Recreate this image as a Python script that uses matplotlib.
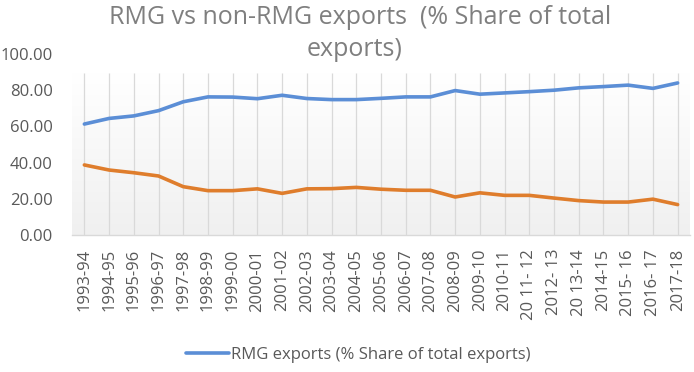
import numpy as np
import matplotlib
matplotlib.use("Agg")
import matplotlib.pyplot as plt
from matplotlib.colors import LinearSegmentedColormap

years = ["1993-94", "1994-95", "1995-96", "1996-97", "1997-98", "1998-99", "1999-00",
         "2000-01", "2001-02", "2002-03", "2003-04", "2004-05", "2005-06", "2006-07",
         "2007-08", "2008-09", "2009-10", "2010-11", "20 11- 12", "2012- 13", "20 13-14",
         "2014-15", "2015- 16", "2016- 17", "2017-18"]
rmg = [61.3, 64.4, 65.8, 68.7, 73.6, 76.3, 76.2, 75.3, 77.2, 75.4, 74.8, 74.8, 75.5,
       76.3, 76.3, 79.8, 77.8, 78.5, 79.2, 80.0, 81.3, 82.0, 82.8, 81.0, 84.0]
non_rmg = [38.7, 35.9, 34.4, 32.6, 26.7, 24.5, 24.5, 25.5, 23.0, 25.5, 25.6, 26.3, 25.3,
           24.7, 24.7, 21.0, 23.3, 21.9, 21.9, 20.4, 19.0, 18.2, 18.2, 19.8, 16.8]
yticks = [0, 20, 40, 60, 80, 100]

plt.rcParams['font.family'] = ['Open Sans', 'DejaVu Sans']

W, H = 694, 372
fig = plt.figure(figsize=(W / 100, H / 100), dpi=100)
ax = fig.add_axes([72 / W, (H - 235) / H, (690 - 72) / W, (235 - 54) / H])

x = np.arange(len(years))
ax.set_xlim(-0.5, len(years) - 0.5)
ax.set_ylim(0, 100)

area_top = 89.5
grad = np.linspace(0, 1, 256).reshape(-1, 1)
cmap = LinearSegmentedColormap.from_list("g", ["#f0f0f0", "#ffffff"])
ax.imshow(grad, aspect='auto', cmap=cmap, origin='lower',
          extent=[-0.5, len(years) - 0.5, 0, area_top], zorder=0)

ax.vlines(x, 0, area_top, color='#d9d9d9', lw=0.9, zorder=1)

ax.plot(x, rmg, color='#5b8ed6', lw=2.6, solid_capstyle='round', zorder=3,
        label='RMG exports (% Share of total exports)')
ax.plot(x, non_rmg, color='#df7d2c', lw=2.6, solid_capstyle='round', zorder=3,
        label='_nolegend_')

for s in ['top', 'right', 'left']:
    ax.spines[s].set_visible(False)
ax.spines['bottom'].set_color('#d9d9d9')
ax.spines['bottom'].set_linewidth(1.0)

ax.set_xticks(x)
ax.set_xticklabels(years, rotation=90, fontsize=12, color='#595959')
ax.set_yticks(yticks)
ax.set_yticklabels([f"{v:.2f}" for v in yticks], fontsize=12, color='#595959')
ax.tick_params(axis='both', length=0)
ax.tick_params(axis='x', pad=10)
ax.tick_params(axis='y', pad=14)

fig.text(360 / W, 1 - 18 / H, "RMG vs non-RMG exports  (% Share of total", ha='center', va='center',
         fontsize=18, color='#7f7f7f')
fig.text(355 / W, 1 - 50 / H, "exports)", ha='center', va='center',
         fontsize=18, color='#7f7f7f')

leg = fig.legend(loc='center', bbox_to_anchor=(358 / W, 1 - 355 / H), frameon=False,
                 fontsize=12, handlelength=2.6, handletextpad=0.1)
for t in leg.get_texts():
    t.set_color('#595959')

fig.savefig("out.png", dpi=100)
